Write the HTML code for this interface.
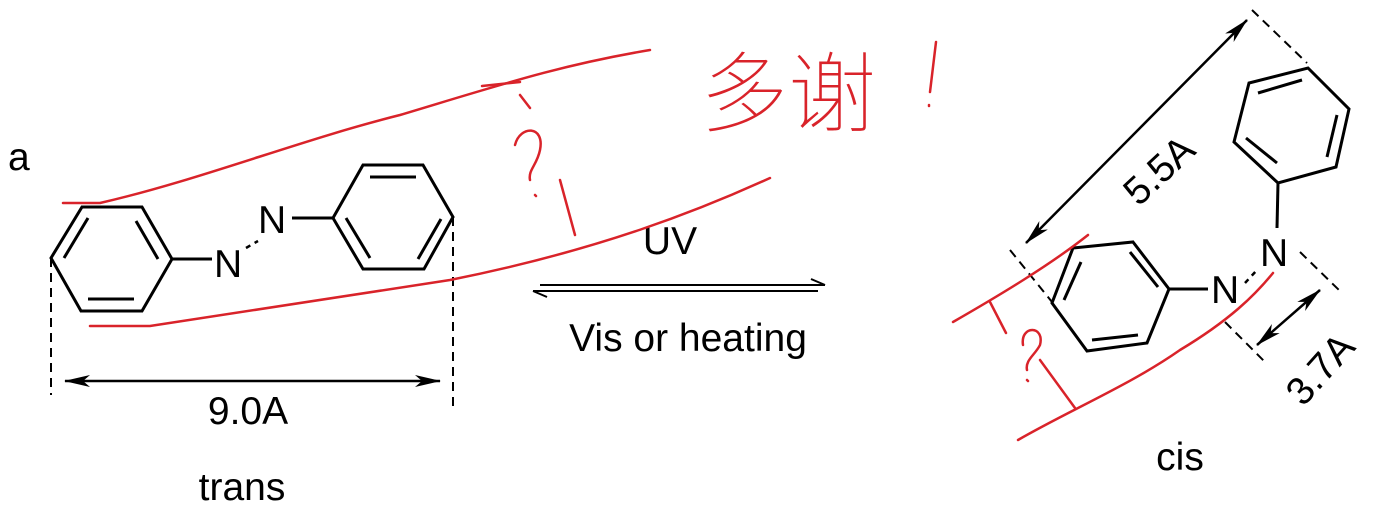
<!DOCTYPE html>
<html><head><meta charset="utf-8"><style>
body{margin:0;background:#fff;width:1373px;height:519px;overflow:hidden}
svg{display:block}
text{font-family:"Liberation Sans",sans-serif;fill:#000}
</style></head><body>
<svg width="1373" height="519" viewBox="0 0 1373 519">
<defs>
<marker id="ah" viewBox="0 0 26 12" refX="25" refY="6" markerWidth="26" markerHeight="12" markerUnits="userSpaceOnUse" orient="auto-start-reverse"><path d="M0,0 L26,6 L0,12 L7,6Z" fill="#000"/></marker>
</defs>
<g stroke="#000" stroke-width="3" fill="none" stroke-linejoin="miter">
<polygon points="82,207 142,207 172,259 142,311 81,311 51,258"/>
<line x1="136" y1="221" x2="158" y2="259"/><line x1="88" y1="299" x2="134" y2="299"/><line x1="64" y1="258" x2="88" y2="218"/>
<line x1="172" y1="259" x2="212" y2="259"/>
<line x1="246" y1="248" x2="258" y2="241" stroke-width="2.5" stroke-dasharray="5,5"/>
<line x1="292" y1="218" x2="333" y2="218"/>
<polygon points="363,165 423,165 453,217 424,269 363,269 333,218"/>
<line x1="370" y1="177" x2="416" y2="177"/><line x1="441" y1="219" x2="418" y2="259"/><line x1="346" y1="218" x2="370" y2="258"/>
<line x1="51" y1="258" x2="51" y2="395" stroke-width="2" stroke-dasharray="9,6"/>
<line x1="453" y1="217" x2="453" y2="410" stroke-width="2" stroke-dasharray="9,6"/>
<line x1="65" y1="381" x2="440" y2="381" stroke-width="2.5" marker-start="url(#ah)" marker-end="url(#ah)"/>
<line x1="540" y1="285" x2="825" y2="285" stroke-width="2"/>
<polyline points="811,279 825,285" stroke-width="2"/>
<line x1="533" y1="291" x2="818" y2="291" stroke-width="2"/>
<polyline points="533,291 547,297" stroke-width="2"/>
<polygon points="1308,68 1349,109 1336,167 1278,183 1234,142 1249,83"/>
<line x1="1258" y1="93" x2="1302" y2="80"/><line x1="1337" y1="115" x2="1327" y2="157"/><line x1="1246" y1="138" x2="1277" y2="163"/>
<line x1="1278" y1="183" x2="1277" y2="228"/>
<line x1="1245" y1="283" x2="1257" y2="270" stroke-width="2.5" stroke-dasharray="5,5"/>
<polygon points="1133,242 1169,289 1147,343 1087,351 1052,303 1073,248"/>
<line x1="1130" y1="252" x2="1158" y2="287"/><line x1="1138" y1="335" x2="1092" y2="340"/><line x1="1064" y1="300" x2="1081" y2="262"/>
<line x1="1169" y1="289" x2="1208" y2="289"/>
<line x1="1252" y1="10" x2="1307" y2="63" stroke-width="2" stroke-dasharray="9,6"/>
<line x1="1010" y1="250" x2="1052" y2="302" stroke-width="2" stroke-dasharray="9,6"/>
<line x1="1026" y1="243" x2="1247" y2="20" stroke-width="2.5" marker-start="url(#ah)" marker-end="url(#ah)"/>
<line x1="1300" y1="252" x2="1342" y2="293" stroke-width="2" stroke-dasharray="9,6"/>
<line x1="1225" y1="322" x2="1265" y2="362" stroke-width="2" stroke-dasharray="9,6"/>
<line x1="1257" y1="345" x2="1320" y2="290" stroke-width="2.5" marker-start="url(#ah)" marker-end="url(#ah)"/>
</g>
<g font-size="39">
<text x="8" y="170">a</text>
<text x="214" y="277">N</text>
<text x="258" y="233">N</text>
<text x="248" y="424" text-anchor="middle">9.0A</text>
<text x="242" y="500" text-anchor="middle">trans</text>
<text x="670" y="254" text-anchor="middle">UV</text>
<text x="688" y="351" text-anchor="middle">Vis or heating</text>
<text x="1211" y="303">N</text>
<text x="1260" y="266">N</text>
<text x="1180" y="470" text-anchor="middle">cis</text>
<text transform="translate(1168,180) rotate(-43)" text-anchor="middle">5.5A</text>
<text transform="translate(1330,378) rotate(-48)" text-anchor="middle">3.7A</text>
</g>
<g stroke="#d9232a" stroke-width="2.5" fill="none" stroke-linecap="round">
<path d="M63,203 L100,203 C200,180 300,140 400,115 C500,85 560,65 650,50"/>
<path d="M90,326 L150,326 C250,310 350,295 450,280 C600,250 700,210 770,178"/>
<path d="M482,86 L520,82"/><path d="M520,95 L530,108 M515,145 C520,125 545,125 540,150 C537,165 528,170 530,180 M535,195 L536,196 M560,180 L575,235"/>
<path d="M953,322 C1000,295 1050,265 1088,235"/>
<path d="M1018,440 C1070,410 1130,385 1180,350 C1230,320 1255,295 1273,273"/>
<path d="M990,302 L1006,333 M1023,345 C1020,325 1045,325 1040,345 C1035,355 1025,360 1027,370 M1027,380 L1028,381 M1040,360 L1075,408"/>
<path d="M936,42 L930,92 M929,105 L929,106"/>
</g>
<text x="700" y="125" font-size="88" style="font-family:'Noto Sans CJK SC',sans-serif;fill:#d9232a;font-weight:100">多谢</text>
</svg>
</body></html>
